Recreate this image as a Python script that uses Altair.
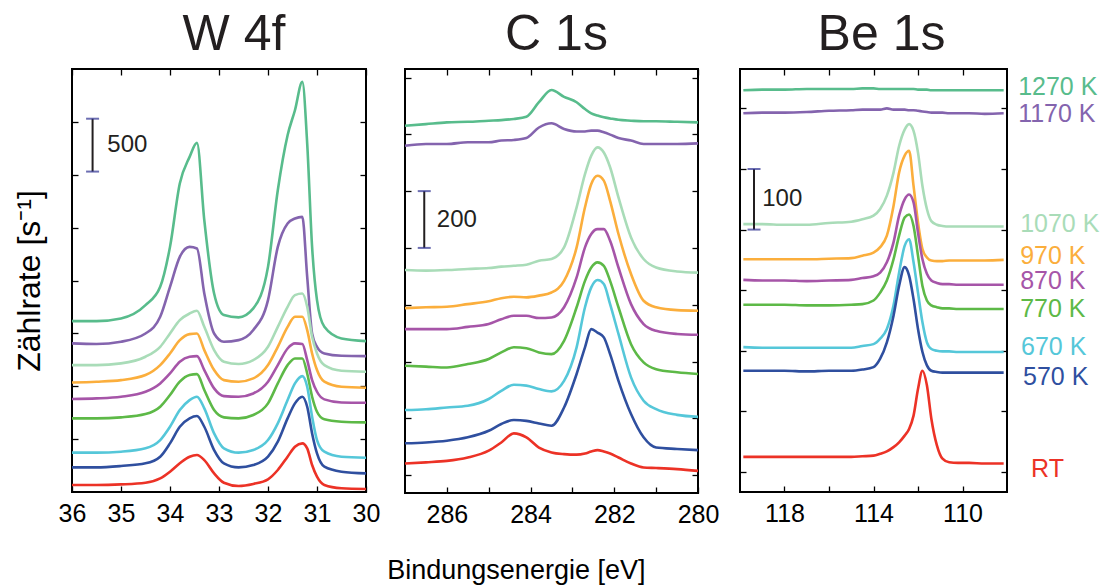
import altair as alt
import pandas as pd

SERIES = ["1270 K", "1170 K", "1070 K", "970 K", "870 K", "770 K", "670 K", "570 K", "RT"]
COLORS = ["#58BC8C", "#8464AE", "#A9DCB8", "#FBAE3C", "#A655A8", "#5DB947", "#55C7D9", "#2F4F9F", "#EC3226"]

# ---------------- W 4f ----------------
w_energy = [36.0, 35.5, 35.0, 34.5, 34.2, 34.0, 33.8, 33.6, 33.45, 33.3, 33.1, 32.9, 32.6,
            32.3, 32.0, 31.8, 31.6, 31.45, 31.3, 31.2, 31.1, 31.0, 30.85, 30.5, 30.0]
w_1270 = [1616, 1616, 1641, 1767, 1940, 2318, 2917, 3169, 3301, 2570, 1877, 1673, 1651,
          1736, 2129, 2854, 3374, 3610, 3878, 3295, 2318, 1814, 1562, 1452, 1427]
w_1170 = [1405, 1399, 1421, 1499, 1657, 1940, 2224, 2318, 2303, 1877, 1499, 1421, 1436,
          1531, 1814, 2318, 2539, 2586, 2602, 2035, 1499, 1373, 1310, 1288, 1285]
w_1070 = [1200, 1200, 1216, 1279, 1373, 1499, 1625, 1688, 1714, 1562, 1342, 1232, 1210,
          1247, 1373, 1562, 1751, 1862, 1877, 1751, 1468, 1310, 1200, 1147, 1137]
w_970 = [1036, 1043, 1058, 1106, 1200, 1310, 1436, 1493, 1499, 1342, 1153, 1058, 1043,
         1074, 1200, 1373, 1562, 1657, 1657, 1531, 1310, 1153, 1043, 995, 986]
w_870 = [879, 885, 901, 948, 1027, 1121, 1232, 1279, 1285, 1153, 980, 907, 901,
         932, 1043, 1200, 1357, 1405, 1399, 1247, 1058, 948, 876, 847, 844]
w_770 = [696, 696, 706, 737, 806, 917, 1043, 1106, 1115, 964, 775, 706, 696,
         728, 838, 1027, 1200, 1263, 1263, 1121, 901, 759, 687, 665, 658]
w_670 = [372, 372, 381, 413, 491, 617, 775, 869, 901, 791, 554, 413, 372,
         397, 491, 649, 869, 1027, 1096, 995, 712, 491, 381, 334, 324]
w_570 = [233, 233, 246, 271, 334, 460, 617, 696, 718, 617, 397, 271, 233,
         255, 334, 476, 696, 838, 901, 806, 554, 365, 239, 192, 176]
w_rt = [66, 66, 72, 88, 129, 192, 271, 334, 350, 302, 176, 88, 57,
        76, 120, 208, 334, 428, 460, 413, 255, 145, 66, 35, 28]

# ---------------- C 1s ----------------
c_energy = [287.0, 286.5, 286.0, 285.5, 285.0, 284.7, 284.4, 284.1, 283.8, 283.5, 283.2, 282.9,
            282.7, 282.55, 282.4, 282.25, 282.1, 281.9, 281.6, 281.3, 281.0, 280.5, 280.0]
c_1270 = [1230, 1236, 1242, 1244, 1248, 1250, 1254, 1262, 1313, 1356, 1332, 1313,
          1289, 1274, 1266, 1260, 1256, 1251, 1248, 1246, 1246, 1244, 1242]
c_1170 = [1160, 1166, 1166, 1172, 1172, 1178, 1180, 1187, 1224, 1239, 1219, 1210,
          1210, 1213, 1213, 1207, 1199, 1187, 1178, 1166, 1166, 1166, 1168]
c_1070 = [722, 720, 722, 726, 729, 734, 737, 741, 755, 761, 802, 943,
          1060, 1125, 1154, 1136, 1084, 978, 837, 761, 731, 717, 713]
c_970 = [588, 591, 593, 602, 612, 623, 628, 626, 632, 643, 684, 802,
         943, 1025, 1054, 1037, 966, 849, 708, 614, 591, 581, 579]
c_870 = [514, 514, 514, 522, 532, 549, 561, 561, 553, 555, 591, 696,
         802, 849, 866, 866, 825, 731, 602, 532, 508, 497, 494]
c_770 = [385, 382, 379, 391, 409, 432, 450, 447, 432, 426, 473, 591,
         684, 731, 749, 737, 684, 591, 461, 397, 373, 362, 356]
c_670 = [229, 232, 238, 244, 268, 297, 318, 315, 303, 295, 332, 450,
         591, 661, 687, 673, 602, 497, 344, 262, 232, 212, 205]
c_570 = [112, 115, 121, 133, 156, 180, 194, 191, 182, 174, 238, 356,
         450, 514, 502, 485, 426, 332, 215, 133, 97, 92, 88]
c_rt = [41, 45, 50, 62, 86, 115, 147, 133, 97, 80, 74, 72,
        76, 83, 88, 83, 76, 62, 41, 27, 25, 21, 15]

# ---------------- Be 1s ----------------
b_energy = [119.85, 119.0, 118.0, 117.0, 116.0, 115.0, 114.5, 114.0, 113.7, 113.4, 113.1, 112.85, 112.6,
            112.4, 112.2, 112.0, 111.8, 111.6, 111.4, 111.15, 110.9, 110.6, 110.2, 109.7, 109.0, 108.15]
b_1270 = [630, 631, 631, 632, 632, 632, 633, 633, 632, 632, 632, 632, 632,
          632, 632, 631, 631, 631, 630, 630, 630, 630, 630, 630, 630, 630]
b_1170 = [592, 593, 593, 594, 596, 597, 598, 598, 598, 600, 598, 598, 598,
          597, 597, 596, 595, 594, 593, 593, 593, 592, 592, 592, 591, 592]
b_1070 = [409, 409, 408, 408, 411, 413, 417, 423, 434, 456, 494, 538, 565,
          574, 563, 527, 472, 434, 414, 408, 406, 405, 405, 405, 405, 405]
b_970 = [351, 351, 351, 351, 352, 353, 357, 362, 371, 390, 439, 494, 522,
         530, 472, 412, 368, 354, 349, 348, 348, 349, 349, 349, 349, 350]
b_870 = [317, 316, 316, 315, 316, 317, 320, 323, 329, 346, 379, 423, 450,
         458, 445, 395, 351, 327, 316, 312, 310, 310, 309, 309, 309, 309]
b_770 = [276, 276, 276, 275, 275, 276, 277, 283, 296, 316, 351, 390, 420,
         425, 406, 357, 307, 283, 275, 272, 270, 270, 269, 269, 269, 269]
b_670 = [206, 205, 205, 205, 205, 205, 208, 211, 220, 236, 275, 329, 373,
         384, 346, 296, 247, 214, 203, 200, 199, 199, 198, 198, 198, 198]
b_570 = [167, 167, 167, 166, 167, 167, 169, 173, 187, 214, 258, 307, 338,
         324, 285, 236, 198, 176, 167, 165, 164, 164, 164, 164, 164, 164]
b_rt = [25, 25, 25, 25, 25, 25, 26, 27, 30, 34, 41, 49, 60,
        71, 93, 137, 167, 143, 88, 44, 22, 16, 15, 15, 14, 14]

# legend labels (right of Be 1s panel)
legend_e = [107.5, 107.5, 107.41, 107.41, 107.41, 107.41, 107.37, 107.28, 106.92]
legend_y = [636, 591, 409, 357, 316, 269, 207, 157, 5]

# scale bars: energy, bottom, top, label energy, label text
w_bar = dict(E=35.58, y1=3030, y2=3530, tE=35.28, label="500")
c_bar = dict(E=286.54, y1=800, y2=1000, tE=286.24, label="200")
b_bar = dict(E=119.37, y1=400, y2=500, tE=119.0, label="100")

TK = 6
FONT = "Liberation Sans, Arial, sans-serif"


def long_df(energies, lists):
    rows = []
    for name, vals in zip(SERIES, lists):
        for e, v in zip(energies, vals):
            rows.append({"E": e, "I": v, "series": name})
    return pd.DataFrame(rows)


def panel(df, xdom, ydom, xvals, yvals, label_expr, title, title_dx, bar, width, height,
          ytitle=None, legend=False):
    xs = alt.Scale(domain=xdom, reverse=True, nice=False, zero=False)
    ys = alt.Scale(domain=ydom, nice=False, zero=False)
    common = dict(offset=-TK, tickSize=TK, tickWidth=1.3, tickColor="black", domain=False, grid=False)
    bottom_axis = alt.Axis(orient="bottom", values=xvals, labelExpr=label_expr, labelFont=FONT,
                           labelFontSize=25, labelColor="black", labelPadding=9, labelOverlap=False,
                           labelFlush=False, title=None, **common)
    left_kw = dict(orient="left", values=yvals, labels=False, **common)
    if ytitle:
        left_kw.update(title=ytitle, titleFont=FONT, titleFontSize=32, titleFontWeight="normal",
                       titleColor="black", titlePadding=32, titleBaseline="alphabetic")
    else:
        left_kw["title"] = None
    top_axis = alt.Axis(orient="top", values=xvals, labels=False, title=None, **common)
    right_axis = alt.Axis(orient="right", values=yvals, labels=False, title=None, **common)

    lines = alt.Chart(df).mark_line(strokeWidth=2.6, interpolate="monotone").encode(
        x=alt.X("E:Q", scale=xs, axis=bottom_axis),
        y=alt.Y("I:Q", scale=ys, axis=alt.Axis(**left_kw)),
        color=alt.Color("series:N", scale=alt.Scale(domain=SERIES, range=COLORS), legend=None),
    )
    bar_df = pd.DataFrame([{"E": bar["E"], "y1": bar["y1"], "y2": bar["y2"]}])
    cap_df = pd.DataFrame([{"E": bar["E"], "y": bar["y1"]}, {"E": bar["E"], "y": bar["y2"]}])
    txt_df = pd.DataFrame([{"E": bar["tE"], "y": (bar["y1"] + bar["y2"]) / 2, "label": bar["label"]}])
    barline = alt.Chart(bar_df).mark_rule(color="#231F20", strokeWidth=2).encode(
        x=alt.X("E:Q", scale=xs, axis=top_axis),
        y=alt.Y("y1:Q", scale=ys, axis=right_axis),
        y2="y2:Q",
    )
    caps = alt.Chart(cap_df).mark_tick(orient="horizontal", size=13, thickness=2, color="#2E3192").encode(
        x=alt.X("E:Q", scale=xs, axis=None),
        y=alt.Y("y:Q", scale=ys, axis=None),
    )
    bartext = alt.Chart(txt_df).mark_text(align="left", baseline="middle", fontSize=24, font=FONT,
                                          color="#231F20").encode(
        x=alt.X("E:Q", scale=xs, axis=None),
        y=alt.Y("y:Q", scale=ys, axis=None),
        text="label:N",
    )
    layers = [lines, barline, caps, bartext]
    if legend:
        leg_df = pd.DataFrame({"E": legend_e, "y": legend_y, "series": SERIES})
        leg = alt.Chart(leg_df).mark_text(align="left", baseline="middle", fontSize=25, font=FONT).encode(
            x=alt.X("E:Q", scale=xs, axis=None),
            y=alt.Y("y:Q", scale=ys, axis=None),
            text="series:N",
            color=alt.Color("series:N", scale=alt.Scale(domain=SERIES, range=COLORS), legend=None),
        )
        layers.append(leg)
    return alt.layer(*layers).resolve_axis(x="independent", y="independent").properties(
        width=width, height=height,
        title=alt.TitleParams(title, fontSize=50, font=FONT, fontWeight="normal", color="#231F20",
                              anchor="middle", dx=title_dx, offset=8),
    )


df_w = long_df(w_energy, [w_1270, w_1170, w_1070, w_970, w_870, w_770, w_670, w_570, w_rt])
df_c = long_df(c_energy, [c_1270, c_1170, c_1070, c_970, c_870, c_770, c_670, c_570, c_rt])
df_b = long_df(b_energy, [b_1270, b_1170, b_1070, b_970, b_870, b_770, b_670, b_570, b_rt])

p1 = panel(df_w, [30, 36], [0, 4000], [36, 35, 34, 33, 32, 31, 30],
           [500, 1000, 1500, 2000, 2500, 3000, 3500], "datum.label", "W 4f", 15, w_bar, 294, 423,
           ytitle="Zählrate [s⁻¹]")
p2 = panel(df_c, [280, 287], [-63, 1430], [286, 285, 284, 283, 282, 281, 280],
           [0, 200, 400, 600, 800, 1000, 1200, 1400],
           "datum.value % 2 == 0 ? datum.label : ''", "C 1s", 5, c_bar, 293, 424)
p3 = panel(df_b, [108, 120], [-33, 665], [118, 116, 114, 112, 110],
           [0, 100, 200, 300, 400, 500, 600],
           "(datum.value - 110) % 4 == 0 ? datum.label : ''", "Be 1s", 8, b_bar, 267, 423,
           legend=True)

chart = alt.hconcat(p1, p2, p3, spacing=17).properties(
    padding={"left": 12, "top": 9, "right": 2, "bottom": 2},
    background="white",
    title=alt.TitleParams("Bindungsenergie [eV]", orient="bottom", anchor="middle", fontSize=27,
                          font=FONT, fontWeight="normal", color="black", offset=30, dx=-40),
).configure_view(stroke="black", strokeWidth=2)

chart.save("out.html", embed_options={"renderer": "svg", "actions": False})
